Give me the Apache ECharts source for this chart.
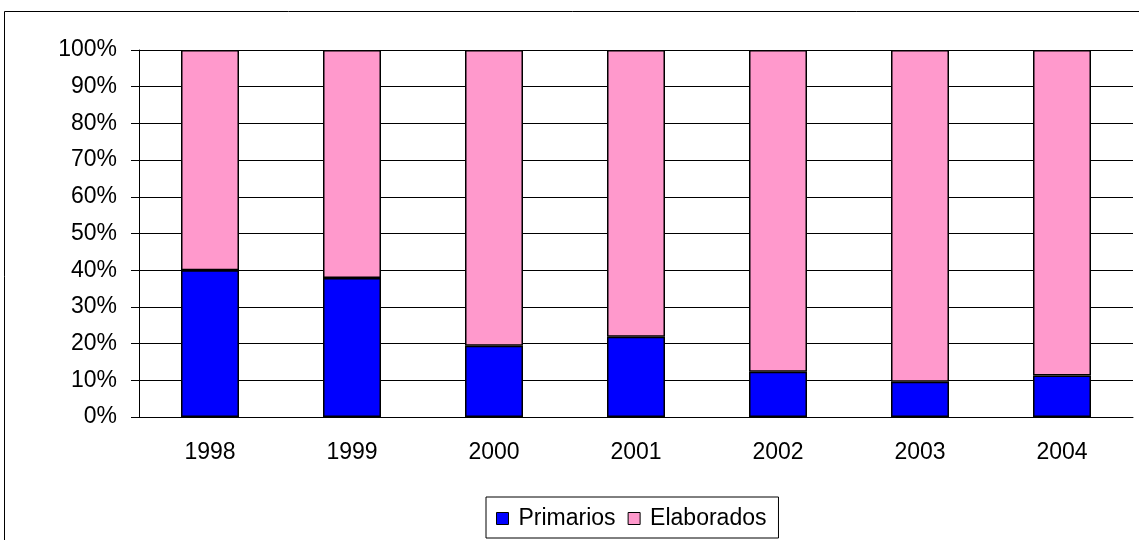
<!DOCTYPE html>
<html>
<head>
<meta charset="utf-8">
<script src="https://cdn.jsdelivr.net/npm/echarts@6/dist/echarts.min.js"></script>
<style>
  html, body { margin: 0; padding: 0; background: #fff; }
  #chart { width: 1139px; height: 540px; }
</style>
</head>
<body>
<div id="chart"></div>
<script>
const years = ['1998', '1999', '2000', '2001', '2002', '2003', '2004']
const primarios = [40, 37.9, 19.4, 21.9, 12.3, 9.6, 11.3]
const elaborados = [60, 62.1, 80.6, 78.1, 87.7, 90.4, 88.7]

const font = 'Liberation Sans, Arial, sans-serif'

const chart = echarts.init(document.getElementById('chart'))
chart.setOption({
  animation: false,
  textStyle: { fontFamily: font },
  graphic: [
    {
      type: 'rect',
      shape: { x: 4.5, y: 11.5, width: 1140, height: 540 },
      style: { fill: 'none', stroke: '#000', lineWidth: 1 }
    }
  ],
  legend: {
    data: ['Primarios', 'Elaborados'],
    left: 486,
    top: 497,
    icon: 'rect',
    itemWidth: 12,
    itemHeight: 12,
    itemGap: 12,
    padding: [10, 12, 8, 10],
    borderColor: '#000',
    borderWidth: 1,
    itemStyle: { borderColor: '#000', borderWidth: 1 },
    textStyle: { fontSize: 23, color: '#000', fontFamily: font, padding: [0, 0, 0, 5] }
  },
  grid: {
    left: 139,
    right: 6,
    top: 50,
    bottom: 123
  },
  xAxis: [
    {
      type: 'category',
      data: years,
      axisLine: { lineStyle: { color: '#000', width: 1 } },
      axisTick: { length: 8, lineStyle: { color: '#000' } },
      axisLabel: { fontSize: 23, color: '#000', margin: 24, fontFamily: font }
    }
  ],
  yAxis: [
    {
      type: 'value',
      min: 0,
      max: 100,
      interval: 10,
      axisLine: { show: true, lineStyle: { color: '#000', width: 1 } },
      axisTick: { show: true, length: 8, lineStyle: { color: '#000' } },
      axisLabel: { formatter: '{value}%', fontSize: 23, color: '#000', margin: 22, fontFamily: font },
      splitLine: { show: true, lineStyle: { color: '#000', width: 1 } }
    }
  ],
  series: [
    {
      name: 'Primarios',
      type: 'bar',
      stack: 'total',
      barWidth: 58,
      data: primarios,
      itemStyle: { color: '#0000ff', borderColor: '#000', borderWidth: 1.5 }
    },
    {
      name: 'Elaborados',
      type: 'bar',
      stack: 'total',
      barWidth: 58,
      data: elaborados,
      itemStyle: { color: '#ff99cc', borderColor: '#000', borderWidth: 1.5 }
    }
  ]
})
</script>
</body>
</html>
